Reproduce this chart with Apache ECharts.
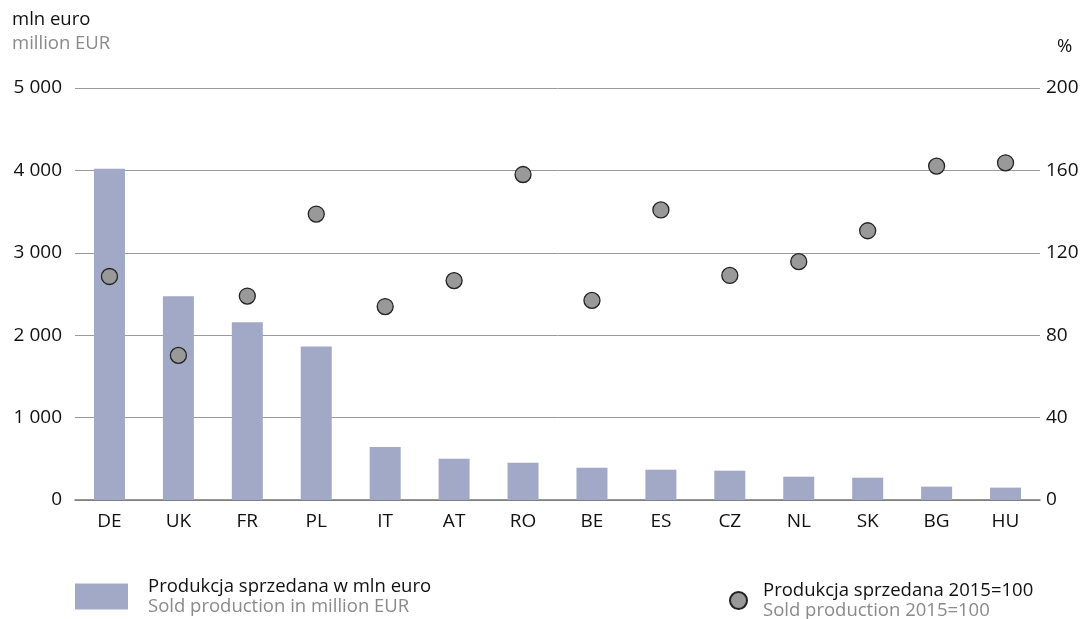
<!DOCTYPE html>
<html><head><meta charset="utf-8">
<script src="https://cdn.jsdelivr.net/npm/echarts@6/dist/echarts.min.js"></script>
<style>html,body{margin:0;padding:0;background:#fff}#c{width:1082px;height:619px}</style>
</head><body><div id="c"></div>
<script>
const categories = ['DE','UK','FR','PL','IT','AT','RO','BE','ES','CZ','NL','SK','BG','HU'];
const soldProduction = [4020, 2473, 2157, 1863, 643, 500, 453, 392, 368, 356, 283, 271, 162, 150];
const soldIndex = [108.5, 70.2, 99, 138.8, 93.9, 106.5, 158, 96.9, 140.8, 109, 115.7, 130.7, 162.1, 163.7];
const leftTicks = [0, 1000, 2000, 3000, 4000, 5000];
const rightTicks = [0, 40, 80, 120, 160, 200];

const FONT = '"Open Sans", "Noto Sans", sans-serif';
const FS = 18.5;
const AFS = 19;
const fmt = v => String(v).replace(/\B(?=(\d{3})+(?!\d))/g, ' ');

const chart = echarts.init(document.getElementById('c'), null, {renderer: 'canvas'});
chart.setOption({
  animation: false,
  textStyle: {fontFamily: FONT},
  title: [
    {text: 'mln euro', subtext: 'million EUR', left: 7, top: 5, itemGap: 5,
     textStyle: {fontFamily: FONT, fontSize: FS, fontWeight: 'normal', color: '#111'},
     subtextStyle: {fontFamily: FONT, fontSize: FS, color: '#8a8a8a'}},
    {text: '%', left: 1052, top: 32,
     textStyle: {fontFamily: FONT, fontSize: FS, fontWeight: 'normal', color: '#111'}}
  ],
  grid: {left: 75, right: 42, top: 88, bottom: 119},
  xAxis: {
    type: 'category', data: categories,
    axisLine: {lineStyle: {color: '#777', width: 1.5}},
    axisTick: {show: false},
    axisLabel: {color: '#111', fontSize: AFS, margin: 12, fontFamily: FONT}
  },
  yAxis: [
    {type: 'value', min: leftTicks[0], max: leftTicks[leftTicks.length-1], interval: 1000,
     axisLine: {show: false}, axisTick: {show: false},
     splitLine: {lineStyle: {color: '#9a9a9a', width: 1}},
     axisLabel: {color: '#111', fontSize: AFS, margin: 13, fontFamily: FONT, formatter: fmt}},
    {type: 'value', min: rightTicks[0], max: rightTicks[rightTicks.length-1], interval: 40,
     axisLine: {show: false}, axisTick: {show: false}, splitLine: {show: false},
     axisLabel: {color: '#111', fontSize: AFS, margin: 6, fontFamily: FONT}}
  ],
  legend: [
    {left: 75, top: 577, padding: 0, itemWidth: 53, itemHeight: 26, data: ['Produkcja sprzedana w mln euro'],
     icon: 'rect',
     formatter: n => '{a|' + n + '}\n{b|Sold production in million EUR}',
     textStyle: {padding: [0, 0, 0, 15], rich: {
       a: {fontFamily: FONT, fontSize: FS, color: '#111', lineHeight: 20},
       b: {fontFamily: FONT, fontSize: FS, color: '#8a8a8a', lineHeight: 20}}}},
    {left: 729, top: 581, padding: 0, itemWidth: 17, itemHeight: 17, data: ['Produkcja sprzedana 2015=100'],
     icon: 'circle',
     formatter: n => '{a|' + n + '}\n{b|Sold production 2015=100}',
     textStyle: {padding: [0, 0, 0, 11], rich: {
       a: {fontFamily: FONT, fontSize: FS, color: '#111', lineHeight: 20},
       b: {fontFamily: FONT, fontSize: FS, color: '#8a8a8a', lineHeight: 20}}}}
  ],
  series: [
    {name: 'Produkcja sprzedana w mln euro', type: 'bar', data: soldProduction,
     barWidth: 31, itemStyle: {color: '#a1a9c7'}, z: 2},
    {name: 'Produkcja sprzedana 2015=100', type: 'scatter', yAxisIndex: 1, data: soldIndex,
     symbol: 'circle', symbolSize: 16,
     itemStyle: {color: '#999999', borderColor: '#222', borderWidth: 1.3, opacity: 1}, z: 5}
  ]
});
</script></body></html>
